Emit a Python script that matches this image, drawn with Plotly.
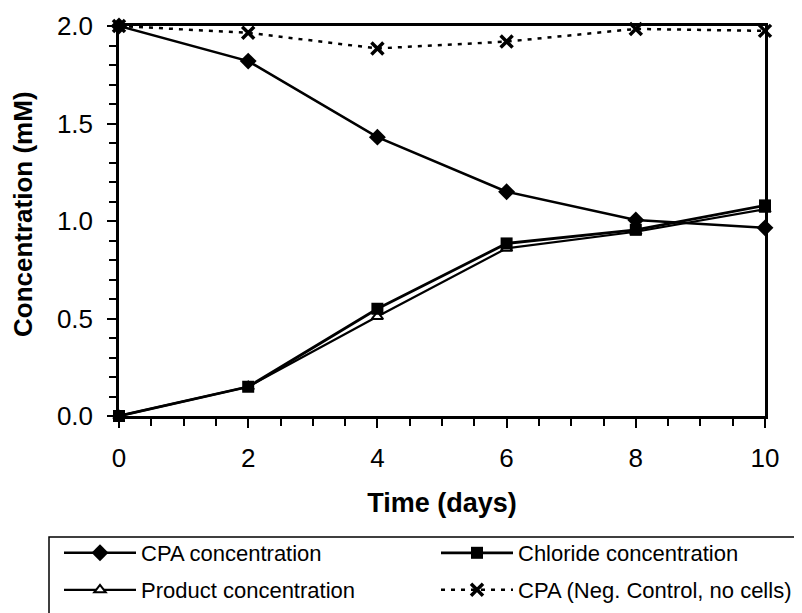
import plotly.graph_objects as go

days = [0, 2, 4, 6, 8, 10]
cpa = [2.0, 1.82, 1.43, 1.15, 1.005, 0.965]
chloride = [0.0, 0.15, 0.55, 0.885, 0.955, 1.08]
product = [0.0, 0.15, 0.51, 0.86, 0.945, 1.06]
neg_control = [2.0, 1.965, 1.885, 1.92, 1.985, 1.975]

names = ["CPA concentration", "Chloride concentration",
         "Product concentration", "CPA (Neg. Control, no cells)"]

FONT = "Liberation Sans, Arial, sans-serif"
W, H = 794, 605
L, R, T, B = 111, 37, 18, 197
PW, PH = W - L - R, H - T - B

fig = go.Figure()
fig.add_trace(go.Scatter(x=days, y=product, name=names[2], mode="lines+markers",
                         line=dict(color="black", width=2.2),
                         marker=dict(symbol="triangle-up", size=10, color="white",
                                     line=dict(color="black", width=2)),
                         cliponaxis=False, legend="legend3"))
fig.add_trace(go.Scatter(x=days, y=chloride, name=names[1], mode="lines+markers",
                         line=dict(color="black", width=2.8),
                         marker=dict(symbol="square", size=12, color="black"),
                         cliponaxis=False, legend="legend2"))
fig.add_trace(go.Scatter(x=days, y=cpa, name=names[0], mode="lines+markers",
                         line=dict(color="black", width=2.5),
                         marker=dict(symbol="diamond", size=13, color="black"),
                         cliponaxis=False, legend="legend"))
fig.add_trace(go.Scatter(x=days, y=neg_control, name=names[3], mode="lines+markers",
                         line=dict(color="black", width=2.5, dash="4px,6px"),
                         marker=dict(symbol="x-thin", size=12,
                                     line=dict(color="black", width=3.5)),
                         cliponaxis=False, legend="legend4"))

def leg(x, y):
    return dict(xref="container", yref="container", x=x / W, y=1 - y / H,
                xanchor="left", yanchor="middle", bgcolor="rgba(0,0,0,0)",
                borderwidth=0, font=dict(family=FONT, size=22, color="black"),
                itemwidth=72)

def px_x(p):  # page pixel -> paper x
    return (p - 8 - L) / PW

def px_y(p):  # page pixel -> paper y
    return (H - B - (p - 8)) / PH

fig.update_layout(
    width=W, height=H,
    margin=dict(l=L, r=R, t=T, b=B, autoexpand=False),
    paper_bgcolor="white", plot_bgcolor="white",
    font=dict(family=FONT, color="black"),
    showlegend=True,
    legend=leg(51, 545), legend2=leg(428, 545),
    legend3=leg(51, 582), legend4=leg(428, 582),
    xaxis=dict(range=[0, 10], tickvals=[0, 2, 4, 6, 8, 10],
               showline=True, mirror=True, linecolor="black", linewidth=2.5,
               ticks="outside", ticklen=9, tickwidth=1.5, tickcolor="black",
               minor=dict(dtick=0.5, ticks="outside", ticklen=7, tickwidth=1.5, tickcolor="black"),
               showgrid=False, zeroline=False,
               tickfont=dict(size=26), ticklabelstandoff=8,
               title=dict(text="<b>Time (days)</b>", font=dict(size=27), standoff=22)),
    yaxis=dict(range=[0, 2], tickvals=[0, 0.5, 1.0, 1.5, 2.0], tickformat=".1f",
               showline=True, mirror=True, linecolor="black", linewidth=2.5,
               ticks="outside", ticklen=9, tickwidth=1.5, tickcolor="black",
               minor=dict(dtick=0.1, ticks="outside", ticklen=7, tickwidth=1.5, tickcolor="black"),
               showgrid=False, zeroline=False,
               tickfont=dict(size=26), ticklabelstandoff=9),
    annotations=[dict(text="<b>Concentration (mM)</b>", textangle=-90,
                      xref="paper", yref="paper", x=px_x(23), y=px_y(214),
                      xanchor="center", yanchor="middle", showarrow=False,
                      font=dict(family=FONT, size=26, color="black"))],
    shapes=[dict(type="rect", xref="paper", yref="paper",
                 x0=px_x(49), x1=px_x(830), y0=px_y(537), y1=px_y(640),
                 line=dict(color="black", width=1.5))],
)

fig.write_html("out.html")
